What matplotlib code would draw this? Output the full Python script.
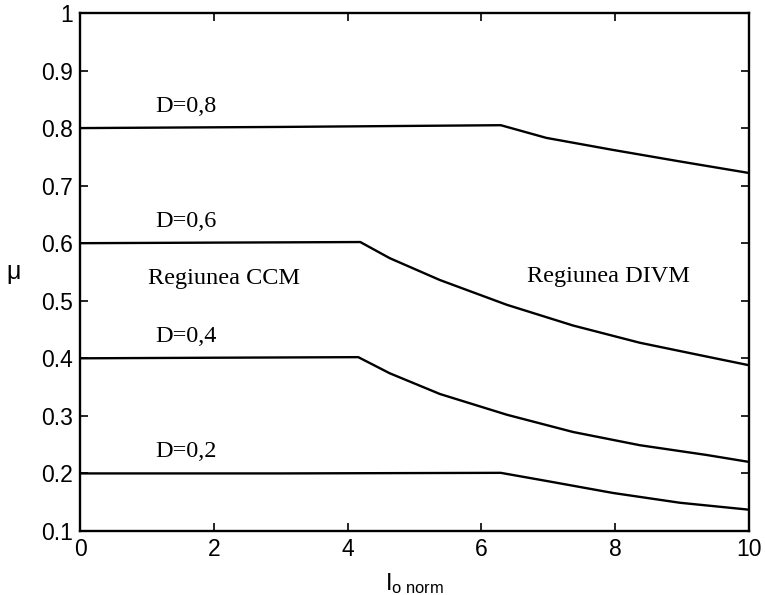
import matplotlib
matplotlib.use("Agg")
import matplotlib.pyplot as plt

# Operating curves mu(I_o norm) for several duty cycles D
x_d08 = [0.0, 3.0, 6.29, 6.6, 6.97, 7.97, 8.97, 10.0]
y_d08 = [0.800, 0.802, 0.805, 0.795, 0.783, 0.762, 0.742, 0.722]

x_d06 = [0.0, 2.0, 4.19, 4.63, 5.38, 6.38, 7.37, 8.37, 9.37, 10.0]
y_d06 = [0.600, 0.601, 0.602, 0.574, 0.536, 0.493, 0.457, 0.427, 0.403, 0.388]

x_d04 = [0.0, 2.0, 4.16, 4.63, 5.38, 6.38, 7.37, 8.37, 9.37, 10.0]
y_d04 = [0.400, 0.401, 0.402, 0.374, 0.338, 0.302, 0.272, 0.249, 0.232, 0.220]

x_d02 = [0.0, 3.0, 6.29, 6.97, 7.97, 8.97, 10.0]
y_d02 = [0.200, 0.200, 0.201, 0.187, 0.166, 0.149, 0.137]

curve_labels = ["D=0,8", "D=0,6", "D=0,4", "D=0,2"]
curve_levels = [0.8, 0.6, 0.4, 0.2]

x_ticks = [0, 2, 4, 6, 8, 10]
y_ticks = [0.1, 0.2, 0.3, 0.4, 0.5, 0.6, 0.7, 0.8, 0.9, 1.0]
y_ticklabels = ["0.1", "0.2", "0.3", "0.4", "0.5", "0.6", "0.7", "0.8", "0.9", "1"]

plt.rcParams["font.family"] = ["Liberation Sans", "DejaVu Sans"]
plt.rcParams["mathtext.fontset"] = "custom"
plt.rcParams["mathtext.rm"] = "Liberation Sans"
plt.rcParams["mathtext.it"] = "Liberation Sans"

fig = plt.figure(figsize=(7.65, 5.95), dpi=100)
ax = fig.add_axes([0.1046, 0.1076, 0.8744, 0.8706])

for xs, ys in [(x_d08, y_d08), (x_d06, y_d06), (x_d04, y_d04), (x_d02, y_d02)]:
    ax.plot(xs, ys, color="black", lw=1.7, solid_joinstyle="round")

serif = ["Liberation Serif", "DejaVu Serif"]
for lab, lev in zip(curve_labels, curve_levels):
    ax.text(1.12, lev + 0.028, lab, family=serif, fontsize=17.5,
            ha="left", va="baseline")

ax.text(1.02, 0.529, "Regiunea CCM", family=serif, fontsize=17.5,
        ha="left", va="baseline")
ax.text(6.68, 0.532, "Regiunea DIVM", family=serif, fontsize=17.5,
        ha="left", va="baseline")

ax.set_xlim(0, 10)
ax.set_ylim(0.1, 1.0)
ax.set_xticks(x_ticks)
ax.set_yticks(y_ticks)
ax.set_yticklabels(y_ticklabels)
ax.tick_params(direction="in", length=6, width=1.2, labelsize=16.5,
               top=True, right=True, pad=5)
for s in ax.spines.values():
    s.set_linewidth(1.7)

ax.set_xlabel(r"$\mathrm{I}_{\mathrm{o\ norm}}$", fontsize=17, labelpad=7)
ax.set_ylabel("\u03bc", fontsize=18, rotation=0, labelpad=20, va="center")

fig.savefig("out.png", dpi=100)
